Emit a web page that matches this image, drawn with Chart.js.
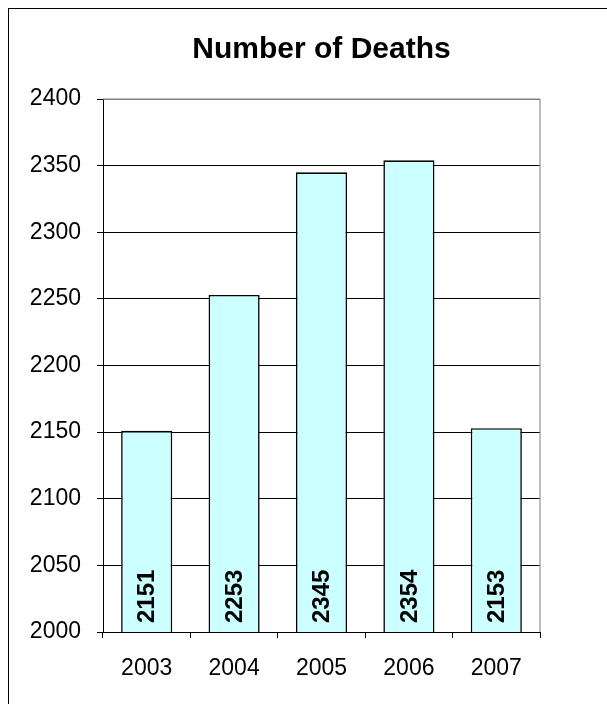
<!DOCTYPE html>
<html>
<head>
<meta charset="utf-8">
<script src="https://cdn.jsdelivr.net/npm/chart.js@4"></script>
<style>
  html, body { margin: 0; padding: 0; background: #fff; overflow: hidden; }
  #wrap { position: relative; width: 607px; height: 704px; }
</style>
</head>
<body>
<div id="wrap"><canvas id="deathsChart" width="607" height="704"></canvas></div>
<script>
// Chart data
const years = ['2003', '2004', '2005', '2006', '2007'];
const deaths = [2151, 2253, 2345, 2354, 2153];
const yMin = 2000;
const yMax = 2400;
const yStep = 50;

// Outer frame of the chart (only top/left visible in the window)
const framePlugin = {
    id: 'frame',
    beforeDraw(chart) {
        const ctx = chart.ctx;
        ctx.save();
        ctx.strokeStyle = '#000';
        ctx.lineWidth = 1;
        ctx.strokeRect(8.5, 8.5, 700, 800);
        ctx.restore();
    },
    beforeDatasetsDraw(chart) {
        // grey plot area border on the right side
        const a = chart.chartArea;
        const ctx = chart.ctx;
        ctx.save();
        ctx.strokeStyle = '#808080';
        ctx.lineWidth = 1;
        ctx.beginPath();
        ctx.moveTo(a.left, a.top);
        ctx.lineTo(a.right, a.top);
        ctx.lineTo(a.right, a.bottom);
        ctx.stroke();
        ctx.restore();
    }
};

// Vertical value labels inside the bars
const barLabelPlugin = {
    id: 'barLabels',
    afterDatasetsDraw(chart) {
        const ctx = chart.ctx;
        const meta = chart.getDatasetMeta(0);
        const baseY = chart.scales.y.getPixelForValue(yMin);
        ctx.save();
        ctx.fillStyle = '#000';
        ctx.font = 'bold 24px "Liberation Sans", Arial, sans-serif';
        ctx.textAlign = 'left';
        ctx.textBaseline = 'middle';
        meta.data.forEach((bar, i) => {
            ctx.save();
            ctx.translate(bar.x, baseY - 9);
            ctx.rotate(-Math.PI / 2);
            ctx.fillText(String(deaths[i]), 0, 1);
            ctx.restore();
        });
        ctx.restore();
    }
};

new Chart(document.getElementById('deathsChart'), {
    type: 'bar',
    data: {
        labels: years,
        datasets: [{
            label: 'Number of Deaths',
            data: deaths,
            backgroundColor: '#CCFFFF',
            borderColor: '#000',
            borderWidth: 1.6,
            barPercentage: 0.585,
            categoryPercentage: 1
        }]
    },
    options: {
        responsive: false,
        animation: false,
        layout: {
            padding: { left: 0, right: 67, top: 0, bottom: 0 }
        },
        plugins: {
            legend: { display: false },
            tooltip: { enabled: false },
            title: {
                display: true,
                fullSize: false,
                text: 'Number of Deaths',
                color: '#000',
                font: { family: '"Liberation Sans", Arial, sans-serif', size: 30, weight: 'bold' },
                padding: { top: 32, bottom: 31 }
            }
        },
        scales: {
            y: {
                min: yMin,
                max: yMax,
                ticks: {
                    stepSize: yStep,
                    color: '#000',
                    padding: 16,
                    font: { family: '"Liberation Sans", Arial, sans-serif', size: 23 },
                    callback: (v) => String(v)
                },
                grid: {
                    color: (c) => (c.tick && c.tick.value === yMax) ? '#808080' : '#000',
                    tickColor: '#000',
                    tickLength: 6,
                    lineWidth: 1
                },
                border: { color: '#000', width: 1 },
                afterFit(scale) { scale.width = 103; }
            },
            x: {
                ticks: {
                    color: '#000',
                    padding: 17,
                    font: { family: '"Liberation Sans", Arial, sans-serif', size: 23 }
                },
                grid: {
                    offset: true,
                    drawOnChartArea: false,
                    color: '#000',
                    tickLength: 6
                },
                border: { color: '#000', width: 1 },
                afterFit(scale) { scale.height = 72; }
            }
        }
    },
    plugins: [framePlugin, barLabelPlugin]
});
</script>
</body>
</html>
